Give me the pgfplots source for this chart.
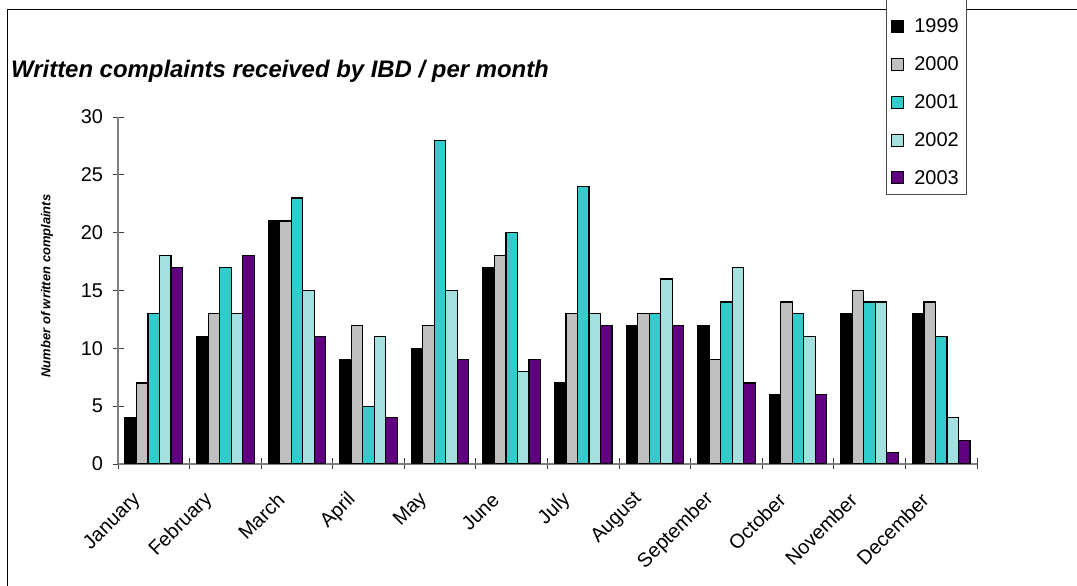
\documentclass[border=0pt]{standalone}
\usepackage{fontspec}
\setmainfont{Liberation Sans}
\usepackage{pgfplots}
\usepackage{pgfplotstable}
\pgfplotsset{compat=1.18}

\definecolor{c1999}{RGB}{0,0,0}
\definecolor{c2000}{RGB}{192,192,192}
\definecolor{c2001}{RGB}{51,204,204}
\definecolor{c2002}{RGB}{164,224,224}
\definecolor{c2003}{RGB}{96,0,128}
\definecolor{axisgray}{RGB}{128,128,128}

% month index, complaints per year
\pgfplotstableread{
m  y1999 y2000 y2001 y2002 y2003
0  4     7     13    18    17
1  11    13    17    13    18
2  21    21    23    15    11
3  9     12    5     11    4
4  10    12    28    15    9
5  17    18    20    8     9
6  7     13    24    13    12
7  12    13    13    16    12
8  12    9     14    17    7
9  6     14    13    11    6
10 13    15    14    14    1
11 13    14    11    4     2
}\complaints

\begin{document}
\begin{tikzpicture}[x=1bp,y=1bp]
\path[use as bounding box] (0,0) rectangle (1077,586);
% chart frame (left and top edges)
\draw[line width=1.2bp] (7.5,0) -- (7.5,576.5) -- (1077,576.5);
\node[anchor=west, inner sep=0pt, font=\fontsize{24}{28}\selectfont\bfseries\itshape]
  at (11,515) {Written complaints received by IBD / per month};
\node[rotate=90, inner sep=0pt, font=\fontsize{13}{15}\selectfont\bfseries\itshape]
  at (47,300) {Number of written complaints};
% legend frame
\draw[draw=black!70, line width=0.9bp, fill=white] (886,590) -- (886,392) -- (966,392) -- (966,590);
\begin{axis}[
  at={(118bp,122bp)}, anchor=south west,
  scale only axis, width=859bp, height=347bp,
  xmin=-0.5, xmax=11.5, ymin=0, ymax=30,
  ybar=0pt, bar width=11.5bp,
  axis lines*=left,
  axis line style={draw=axisgray, line width=1.1bp},
  xtick={-0.5,0.5,...,11.5},
  x tick label as interval,
  xticklabels={January,February,March,April,May,June,July,August,September,October,November,December},
  ytick={0,5,...,30},
  tick align=center,
  major tick length=11bp,
  tick style={draw=black!75, line width=0.9bp},
  /pgf/number format/assume math mode=true,
  ticklabel style={font=\fontsize{20}{24}\selectfont},
  xticklabel style={xshift=-16bp, yshift=-27bp, rotate=45, anchor=east, inner sep=0pt},
  yticklabel style={xshift=-6bp},
  every axis plot/.append style={draw=black, line width=1.2bp},
  legend image code/.code={\draw[#1,/tikz/.cd,line width=1bp] (0bp,-6bp) rectangle (12bp,6bp); \path (20bp,0bp);},
  legend style={at={(0.8941,1.3156)}, anchor=north west,
    draw=none, fill=none,
    font=\fontsize{20}{24}\selectfont,
    row sep=18.5bp, inner xsep=5bp, inner ysep=9bp},
  legend cell align=left,
]
\addplot[fill=c1999] table[x=m,y=y1999]{\complaints};
\addplot[fill=c2000] table[x=m,y=y2000]{\complaints};
\addplot[fill=c2001] table[x=m,y=y2001]{\complaints};
\addplot[fill=c2002] table[x=m,y=y2002]{\complaints};
\addplot[fill=c2003] table[x=m,y=y2003]{\complaints};
\legend{1999,2000,2001,2002,2003}
\end{axis}
\end{tikzpicture}
\end{document}
